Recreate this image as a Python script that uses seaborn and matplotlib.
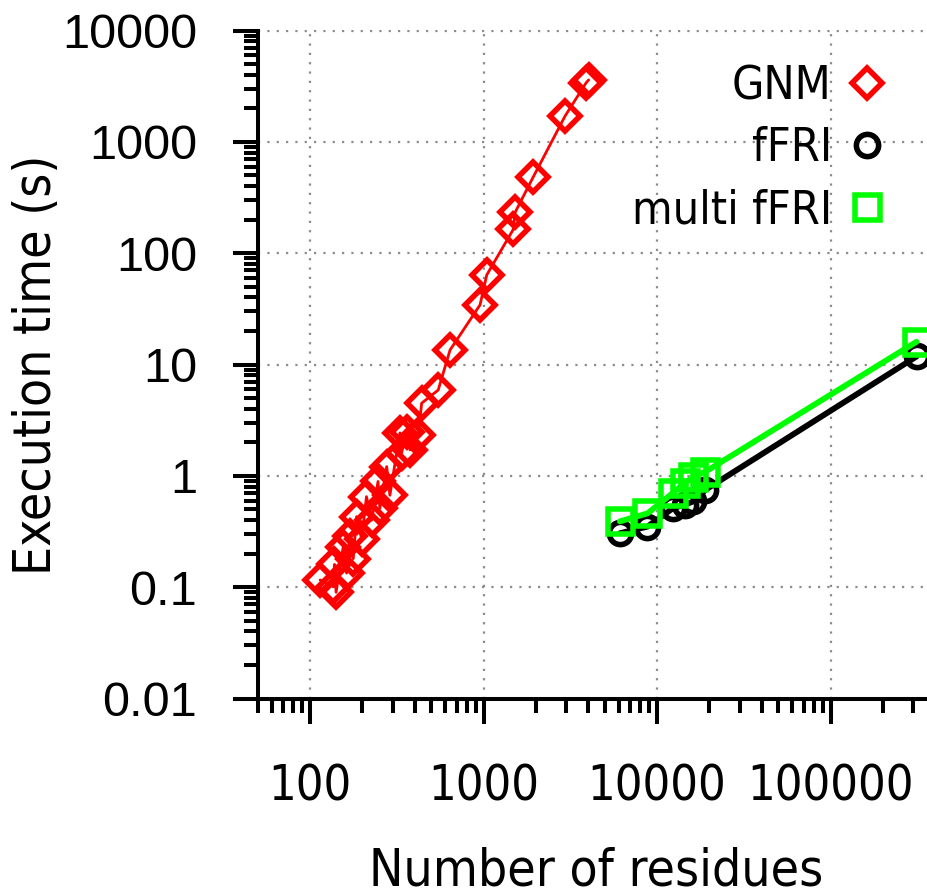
import pandas as pd
import matplotlib
matplotlib.use("Agg")
import matplotlib.pyplot as plt
from matplotlib.lines import Line2D
from matplotlib.ticker import FixedLocator, LogLocator, NullFormatter
import seaborn as sns

# GNM timings (number of residues, seconds)
gnm_n = [114, 136, 138, 141, 155, 162, 169, 177, 185, 198, 211, 226, 246, 252, 276,
         288, 329, 336, 360, 376, 420, 439, 547, 640, 953, 1042, 1483, 1517, 1937,
         2950, 3900, 4030]
gnm_t = [0.116, 0.101, 0.16, 0.09, 0.23, 0.134, 0.29, 0.18, 0.43, 0.27, 0.65, 0.40,
         0.89, 0.51, 1.21, 0.67, 2.43, 1.6, 2.49, 1.71, 2.33, 4.49, 5.9, 13.5, 34.3,
         63.8, 164, 232, 488, 1710, 3400, 3600]

# fFRI / multiscale fFRI timings
ffri_n = [6100, 8800, 12300, 14400, 16200, 19000, 313000]
ffri_t = [0.305, 0.35, 0.51, 0.55, 0.59, 0.75, 11.8]
multi_t = [0.39, 0.46, 0.70, 0.86, 0.98, 1.09, 16.0]

xticks = [100, 1000, 10000, 100000]
xtick_labels = ["100", "1000", "10000", "100000"]
yticks = [0.01, 0.1, 1, 10, 100, 1000, 10000]
ytick_labels = ["0.01", "0.1", "1", "10", "100", "1000", "10000"]

gnm = pd.DataFrame({"n": gnm_n, "t": gnm_t})
ffri = pd.DataFrame({"n": ffri_n, "t": ffri_t})
multi = pd.DataFrame({"n": ffri_n, "t": multi_t})

sns.set_style("white")
plt.rcParams["font.family"] = ["DejaVu Sans"]
plt.rcParams["font.stretch"] = "condensed"
for key in ("text.color", "axes.labelcolor", "xtick.color", "ytick.color"):
    plt.rcParams[key] = "black"

fig = plt.figure(figsize=(9.27, 8.96), dpi=100)
ax = fig.add_axes([258 / 927, 1 - 698.5 / 896, 677 / 927, 668 / 896])

red, black, green = "#ff0000", "#000000", "#00ff00"
mew = 4.0
ms_d, ms_o, ms_s = 15.5, 16, 18

sns.lineplot(data=gnm, x="n", y="t", ax=ax, estimator=None, color=red, lw=2.0,
             marker="D", markersize=ms_d, mfc="none", markeredgecolor=red,
             markeredgewidth=mew, legend=False)
sns.lineplot(data=ffri, x="n", y="t", ax=ax, estimator=None, color=black, lw=4.2,
             marker="o", markersize=ms_o, mfc="none", markeredgecolor=black,
             markeredgewidth=mew, legend=False)
sns.lineplot(data=multi, x="n", y="t", ax=ax, estimator=None, color=green, lw=4.2,
             marker="s", markersize=ms_s, mfc="none", markeredgecolor=green,
             markeredgewidth=mew, legend=False)

ax.set_xscale("log")
ax.set_yscale("log")
ax.set_xlim(50, 4e5)
ax.set_ylim(0.01, 10000)

ax.xaxis.set_major_locator(FixedLocator(xticks))
ax.set_xticklabels(xtick_labels)
ax.yaxis.set_major_locator(FixedLocator(yticks))
ax.set_yticklabels(ytick_labels)
for axis in (ax.xaxis, ax.yaxis):
    axis.set_minor_locator(LogLocator(base=10, subs=range(2, 10), numticks=20))
    axis.set_minor_formatter(NullFormatter())

ax.tick_params(which="major", direction="out", length=18, width=2.9, color="black",
               bottom=True, left=True)
ax.tick_params(which="minor", direction="out", length=10, width=2.9, color="black",
               bottom=True, left=True)
ax.tick_params(axis="x", which="major", labelsize=35, pad=28)
ax.tick_params(axis="y", which="major", labelsize=35, pad=26)
for lab in ax.get_yticklabels():
    lab.set_family(["Liberation Sans", "DejaVu Sans"])
    lab.set_stretch("normal")

for side in ("top", "right"):
    ax.spines[side].set_visible(False)
for side in ("bottom", "left"):
    ax.spines[side].set_linewidth(2.9)
    ax.spines[side].set_color("black")

ax.grid(True, which="major", color="#8c8c8c", lw=1.6, linestyle=(0, (1, 3.2)))

ax.set_xlabel("Number of residues", fontsize=37, labelpad=26)
ax.set_ylabel("Execution time (s)", fontsize=37, labelpad=0)

handles = [
    Line2D([], [], ls="none", marker="D", markersize=ms_d, mfc="none", mec=red, mew=mew),
    Line2D([], [], ls="none", marker="o", markersize=ms_o, mfc="none", mec=black, mew=mew),
    Line2D([], [], ls="none", marker="s", markersize=ms_s, mfc="none", mec=green, mew=mew),
]
ax.legend(handles, ["GNM", "fFRI", "multi fFRI"], loc="upper right",
          bbox_to_anchor=(890 / 927, 1 - 64 / 896), bbox_transform=fig.transFigure,
          frameon=False, markerfirst=False, handlelength=1.0, handletextpad=0.25,
          labelspacing=0.37, borderpad=0, borderaxespad=0, fontsize=33.5)

fig.savefig("out.png", dpi=100)
